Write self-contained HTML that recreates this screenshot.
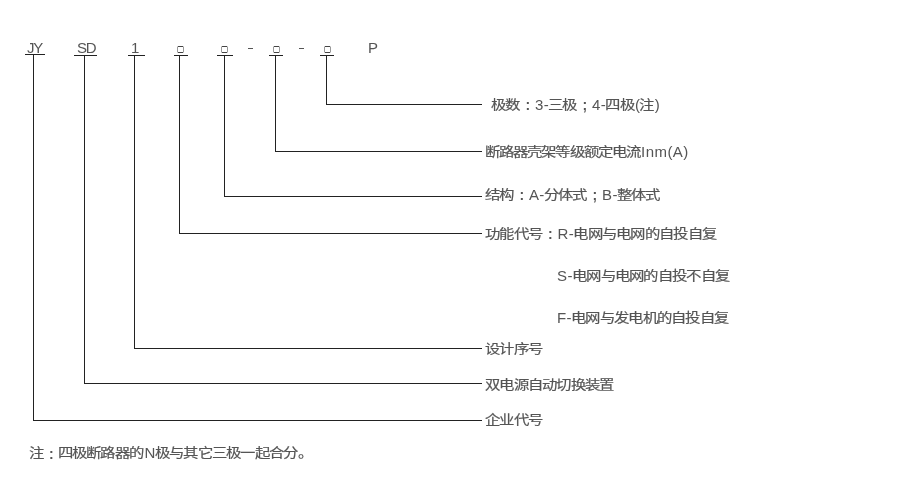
<!DOCTYPE html>
<html lang="zh-CN">
<head>
<meta charset="utf-8">
<style>
html,body{margin:0;padding:0;background:#fff;}
body{width:900px;height:500px;position:relative;overflow:hidden;font-family:"Liberation Sans",sans-serif;color:#555;font-size:14px;}
svg{position:absolute;left:0;top:0;}
.t{position:absolute;white-space:nowrap;line-height:14px;will-change:transform;}
.p{display:inline-block;width:14.3px;text-align:center;position:relative;font-weight:bold;}
.l{font-size:15px;position:relative;top:1px;}
.c{display:inline-block;width:14.3px;text-align:center;transform:scale(1.1,0.92);-webkit-text-stroke:0.2px #555;}
</style>
</head>
<body>
<svg width="900" height="500" shape-rendering="crispEdges">
<g fill="#222">
<!-- top bars -->
<rect x="25" y="54" width="20" height="1"/>
<rect x="74" y="55" width="23" height="1"/>
<rect x="128" y="55" width="17" height="1"/>
<rect x="174" y="55" width="14" height="1"/>
<rect x="217" y="55" width="16" height="1"/>
<rect x="269" y="55" width="14" height="1"/>
<rect x="320" y="55" width="14" height="1"/>
<!-- verticals -->
<rect x="33" y="54" width="1" height="367"/>
<rect x="84" y="55" width="1" height="329"/>
<rect x="134" y="55" width="1" height="294"/>
<rect x="179" y="55" width="1" height="179"/>
<rect x="224" y="55" width="1" height="142"/>
<rect x="275" y="55" width="1" height="97"/>
<rect x="326" y="55" width="1" height="50"/>
<!-- horizontals -->
<rect x="326" y="104" width="156" height="1"/>
<rect x="275" y="151" width="207" height="1"/>
<rect x="224" y="196" width="258" height="1"/>
<rect x="179" y="233" width="303" height="1"/>
<rect x="134" y="348" width="348" height="1"/>
<rect x="84" y="383" width="398" height="1"/>
<rect x="33" y="420" width="449" height="1"/>
</g>
<g>
<rect x="178" y="46" width="5" height="1" fill="#444"/><rect x="178" y="52" width="5" height="1" fill="#444"/><rect x="177" y="47" width="1" height="5" fill="#999"/><rect x="183" y="47" width="1" height="5" fill="#999"/><rect x="177" y="46" width="1" height="1" fill="#ccc"/><rect x="183" y="46" width="1" height="1" fill="#ccc"/><rect x="177" y="52" width="1" height="1" fill="#ccc"/><rect x="183" y="52" width="1" height="1" fill="#ccc"/>
<rect x="222" y="46" width="5" height="1" fill="#444"/><rect x="222" y="52" width="5" height="1" fill="#444"/><rect x="221" y="47" width="1" height="5" fill="#999"/><rect x="227" y="47" width="1" height="5" fill="#999"/><rect x="221" y="46" width="1" height="1" fill="#ccc"/><rect x="227" y="46" width="1" height="1" fill="#ccc"/><rect x="221" y="52" width="1" height="1" fill="#ccc"/><rect x="227" y="52" width="1" height="1" fill="#ccc"/>
<rect x="274" y="46" width="5" height="1" fill="#444"/><rect x="274" y="52" width="5" height="1" fill="#444"/><rect x="273" y="47" width="1" height="5" fill="#999"/><rect x="279" y="47" width="1" height="5" fill="#999"/><rect x="273" y="46" width="1" height="1" fill="#ccc"/><rect x="279" y="46" width="1" height="1" fill="#ccc"/><rect x="273" y="52" width="1" height="1" fill="#ccc"/><rect x="279" y="52" width="1" height="1" fill="#ccc"/>
<rect x="325" y="46" width="5" height="1" fill="#444"/><rect x="325" y="52" width="5" height="1" fill="#444"/><rect x="324" y="47" width="1" height="5" fill="#999"/><rect x="330" y="47" width="1" height="5" fill="#999"/><rect x="324" y="46" width="1" height="1" fill="#ccc"/><rect x="330" y="46" width="1" height="1" fill="#ccc"/><rect x="324" y="52" width="1" height="1" fill="#ccc"/><rect x="330" y="52" width="1" height="1" fill="#ccc"/>
</g>
<g fill="#555">
<rect x="248" y="48" width="5" height="1"/>
<rect x="299" y="48" width="5" height="1"/>
</g>
</svg>
<div class="t" style="left:27px;top:41px;font-size:15px;letter-spacing:-1.2px">JY</div>
<div class="t" style="left:77px;top:41px;font-size:15px;letter-spacing:-1.2px">SD</div>
<div class="t" style="left:131px;top:41px;font-size:15px;letter-spacing:0px">1</div>
<div class="t" style="left:368px;top:41px;font-size:15px;letter-spacing:0px">P</div>
<div class="t" style="left:492px;top:97px;"><span class="c">极</span><span class="c">数</span><span class="p" style="top:1px">:</span><span class="l" style="letter-spacing:0.45px">3-</span><span class="c">三</span><span class="c">极</span><span class="p" style="top:1px">;</span><span class="l" style="letter-spacing:0.45px">4-</span><span class="c">四</span><span class="c">极</span><span class="l" style="letter-spacing:0.45px">(</span><span class="c">注</span><span class="l" style="letter-spacing:0.45px">)</span></div>
<div class="t" style="left:486px;top:144px;"><span class="c" style="width:14.1px">断</span><span class="c" style="width:14.1px">路</span><span class="c" style="width:14.1px">器</span><span class="c" style="width:14.1px">壳</span><span class="c" style="width:14.1px">架</span><span class="c" style="width:14.1px">等</span><span class="c" style="width:14.1px">级</span><span class="c" style="width:14.1px">额</span><span class="c" style="width:14.1px">定</span><span class="c" style="width:14.1px">电</span><span class="c" style="width:14.1px">流</span><span class="l" style="letter-spacing:0.45px">Inm(A)</span></div>
<div class="t" style="left:486px;top:187px;"><span class="c">结</span><span class="c">构</span><span class="p" style="top:1px">:</span><span class="l" style="letter-spacing:0.45px">A-</span><span class="c">分</span><span class="c">体</span><span class="c">式</span><span class="p" style="top:1px">;</span><span class="l" style="letter-spacing:0.45px">B-</span><span class="c">整</span><span class="c">体</span><span class="c">式</span></div>
<div class="t" style="left:486px;top:226px;"><span class="c">功</span><span class="c">能</span><span class="c">代</span><span class="c">号</span><span class="p" style="top:1px">:</span><span class="l" style="letter-spacing:0.45px">R-</span><span class="c">电</span><span class="c">网</span><span class="c">与</span><span class="c">电</span><span class="c">网</span><span class="c">的</span><span class="c">自</span><span class="c">投</span><span class="c">自</span><span class="c">复</span></div>
<div class="t" style="left:557px;top:268px;"><span class="l" style="letter-spacing:0.45px">S-</span><span class="c">电</span><span class="c">网</span><span class="c">与</span><span class="c">电</span><span class="c">网</span><span class="c">的</span><span class="c">自</span><span class="c">投</span><span class="c">不</span><span class="c">自</span><span class="c">复</span></div>
<div class="t" style="left:557px;top:310px;"><span class="l" style="letter-spacing:0.45px">F-</span><span class="c">电</span><span class="c">网</span><span class="c">与</span><span class="c">发</span><span class="c">电</span><span class="c">机</span><span class="c">的</span><span class="c">自</span><span class="c">投</span><span class="c">自</span><span class="c">复</span></div>
<div class="t" style="left:486px;top:341px;"><span class="c">设</span><span class="c">计</span><span class="c">序</span><span class="c">号</span></div>
<div class="t" style="left:486px;top:377px;"><span class="c">双</span><span class="c">电</span><span class="c">源</span><span class="c">自</span><span class="c">动</span><span class="c">切</span><span class="c">换</span><span class="c">装</span><span class="c">置</span></div>
<div class="t" style="left:486px;top:412px;"><span class="c">企</span><span class="c">业</span><span class="c">代</span><span class="c">号</span></div>
<div class="t" style="left:30px;top:445px;"><span class="c">注</span><span class="p" style="top:2px">:</span><span class="c">四</span><span class="c">极</span><span class="c">断</span><span class="c">路</span><span class="c">器</span><span class="c">的</span><span class="l" style="letter-spacing:0.45px">N</span><span class="c">极</span><span class="c">与</span><span class="c">其</span><span class="c">它</span><span class="c">三</span><span class="c">极</span><span class="c">一</span><span class="c">起</span><span class="c">合</span><span class="c">分</span><span class="c">。</span></div>
</body>
</html>
